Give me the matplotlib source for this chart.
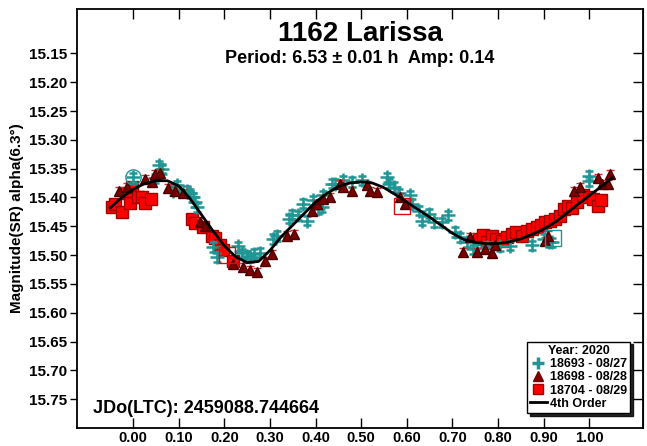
import numpy as np
import matplotlib
matplotlib.use("Agg")
import matplotlib.pyplot as plt
from matplotlib.lines import Line2D

plt.rcParams['font.family'] = ['Liberation Sans', 'DejaVu Sans']
plt.rcParams['font.weight'] = 'bold'

# 18693 - 08/27 (teal pluses)
ph_a = [0.000, 0.048, 0.056, 0.059, 0.063, 0.088, 0.096, 0.103, 0.118, 0.125,
        0.132, 0.136, 0.140, 0.176, 0.183, 0.231, 0.238, 0.249, 0.256, 0.264,
        0.278, 0.307, 0.315, 0.341, 0.348, 0.362, 0.373, 0.381, 0.395, 0.406,
        0.414, 0.417, 0.436, 0.443, 0.461, 0.480, 0.501, 0.556, 0.560, 0.571,
        0.582, 0.607, 0.611, 0.626, 0.633, 0.648, 0.659, 0.677, 0.691, 0.706,
        0.717, 0.732, 0.746, 0.754, 0.776, 0.805, 0.827, 0.874, 0.900, 0.911,
        0.918, 0.999, 0.999]
mag_a = [15.365, 15.367, 15.344, 15.359, 15.350, 15.388, 15.379, 15.388, 15.388, 15.393,
         15.400, 15.408, 15.417, 15.486, 15.504, 15.485, 15.497, 15.501, 15.504, 15.498,
         15.496, 15.472, 15.467, 15.437, 15.430, 15.431, 15.411, 15.440, 15.405, 15.420,
         15.417, 15.396, 15.376, 15.376, 15.370, 15.373, 15.370, 15.365, 15.376, 15.382,
         15.393, 15.396, 15.411, 15.423, 15.440, 15.428, 15.443, 15.443, 15.431, 15.460,
         15.469, 15.478, 15.490, 15.488, 15.486, 15.485, 15.484, 15.483, 15.472, 15.478,
         15.478, 15.362, 15.372]
err_a = 0.008

# 18698 - 08/28 (dark red triangles)
ph_b = [-0.032, -0.014, 0.026, 0.041, 0.048, 0.059, 0.077, 0.092, 0.110, 0.147,
        0.158, 0.220, 0.242, 0.256, 0.271, 0.289, 0.304, 0.337, 0.352, 0.392,
        0.403, 0.417, 0.432, 0.454, 0.461, 0.480, 0.512, 0.520, 0.534, 0.586,
        0.596, 0.724, 0.739, 0.754, 0.772, 0.787, 0.794, 0.904, 0.910, 0.966,
        0.980, 1.020, 1.028, 1.042, 1.046]
mag_b = [15.388, 15.382, 15.368, 15.373, 15.359, 15.358, 15.384, 15.388, 15.392, 15.443,
         15.449, 15.516, 15.521, 15.526, 15.529, 15.511, 15.498, 15.466, 15.463, 15.423,
         15.411, 15.403, 15.399, 15.376, 15.382, 15.388, 15.379, 15.388, 15.391, 15.400,
         15.411, 15.494, 15.469, 15.495, 15.489, 15.497, 15.482, 15.475, 15.466, 15.388,
         15.382, 15.367, 15.376, 15.376, 15.359]
err_b = 0.007

# 18704 - 08/29 (red squares)
ph_c = [-0.047, -0.040, -0.025, -0.014, -0.007, -0.003, 0.011, 0.019, 0.026, 0.040,
        0.129, 0.136, 0.154, 0.173, 0.180, 0.190, 0.198, 0.219,
        0.758, 0.768, 0.776, 0.787, 0.795, 0.808, 0.820, 0.830, 0.840, 0.852,
        0.863, 0.875, 0.885, 0.895, 0.904, 0.915, 0.925, 0.936, 0.945, 0.954,
        0.963, 0.973, 0.987, 1.000, 1.009, 1.020, 1.025]
mag_c = [15.417, 15.412, 15.425, 15.393, 15.410, 15.382, 15.400, 15.399, 15.410, 15.402,
         15.437, 15.445, 15.452, 15.466, 15.471, 15.483, 15.492, 15.510,
         15.472, 15.465, 15.478, 15.466, 15.472, 15.475, 15.468, 15.463, 15.460, 15.466,
         15.458, 15.455, 15.452, 15.447, 15.443, 15.440, 15.437, 15.432, 15.420, 15.414,
         15.418, 15.408, 15.395, 15.400, 15.402, 15.415, 15.405]
err_c = 0.006

# hollow reference markers
ref_ph = [0.000, 0.205, 0.590, 0.920]
ref_mag = [15.365, 15.500, 15.414, 15.471]
ref_mk = ['o', 's', 's', 's']
ref_col = ['#209595', '#d01010', '#d01010', '#209595']

# 4th order fit
fit_ph = [-0.050, -0.025, 0.000, 0.025, 0.050, 0.075, 0.100, 0.125, 0.150, 0.175,
          0.200, 0.225, 0.250, 0.275, 0.300, 0.325, 0.350, 0.375, 0.400, 0.425,
          0.450, 0.475, 0.500, 0.525, 0.550, 0.575, 0.600, 0.625, 0.650, 0.675,
          0.700, 0.725, 0.750, 0.775, 0.800, 0.825, 0.850, 0.875, 0.900, 0.925,
          0.950, 0.975, 1.000, 1.025, 1.050]
fit_mag = [15.418, 15.400, 15.386, 15.376, 15.371, 15.371, 15.380, 15.402, 15.430, 15.458,
           15.484, 15.503, 15.513, 15.511, 15.492, 15.468, 15.448, 15.428, 15.408, 15.393,
           15.381, 15.375, 15.373, 15.375, 15.383, 15.395, 15.408, 15.421, 15.434, 15.448,
           15.462, 15.473, 15.478, 15.480, 15.480, 15.477, 15.472, 15.464, 15.455, 15.443,
           15.428, 15.412, 15.397, 15.382, 15.366]

yticks = [15.15, 15.20, 15.25, 15.30, 15.35, 15.40, 15.45, 15.50, 15.55, 15.60, 15.65, 15.70, 15.75]
xticks = [0.0, 0.1, 0.2, 0.3, 0.4, 0.5, 0.6, 0.7, 0.8, 0.9, 1.0]

teal = '#209595'
maroon = '#7a0000'

fig = plt.figure(figsize=(6.47, 4.46), dpi=100)
ax = fig.add_axes([77 / 647, 18 / 446, 566 / 647, 419 / 446])

ax.errorbar(ph_a, mag_a, yerr=err_a, fmt='+', color=teal, ms=10, mew=1.8,
            elinewidth=1, capsize=3, zorder=3)
ax.errorbar(ph_b, mag_b, yerr=err_b, fmt='^', mfc=maroon, mec='#4a0000', ms=7,
            ecolor='#d03030', elinewidth=1, capsize=3, zorder=4)
ax.errorbar(ph_c, mag_c, yerr=err_c, fmt='s', mfc='#ff0000', mec='#a00000', ms=8,
            ecolor='#e03030', elinewidth=1, capsize=2, zorder=2)
for p, m, mk, c in zip(ref_ph, ref_mag, ref_mk, ref_col):
    ax.plot(p, m, mk, mfc='none', mec=c, ms=11, mew=1, zorder=5)
ax.plot(fit_ph, fit_mag, color='black', lw=2, zorder=6)

ax.set_xlim(-0.123, 1.118)
ax.set_ylim(15.80, 15.073)
ax.set_xticks(xticks)
ax.set_xticklabels([f'{t:.2f}' for t in xticks])
ax.set_yticks(yticks)
ax.set_yticklabels([f'{t:.2f}' for t in yticks])
ax.tick_params(axis='x', direction='in', top=True, length=7, width=1, labelsize=10.5, pad=2)
ax.tick_params(axis='y', direction='out', right=False, length=5, width=1, labelsize=11, pad=2)
sec = ax.secondary_yaxis('right')
sec.set_yticks(yticks)
sec.tick_params(direction='in', length=7, width=1, labelright=False)
for s in ax.spines.values():
    s.set_linewidth(1.3)

ax.set_ylabel('Magnitude(SR) alpha(6.3°)', fontsize=11, fontweight='bold')
ax.yaxis.set_label_coords(-0.094, 0.5)

fig.text(360 / 647, 1 - 41 / 446, '1162 Larissa', ha='center', va='baseline',
         fontsize=20, fontweight='bold')
fig.text(360 / 647, 1 - 63 / 446, 'Period: 6.53 ± 0.01 h  Amp: 0.14', ha='center',
         va='baseline', fontsize=13, fontweight='bold')
fig.text(93 / 647, 1 - 413 / 446, 'JDo(LTC): 2459088.744664', ha='left', va='baseline',
         fontsize=13, fontweight='bold')

handles = [
    Line2D([], [], ls='none', marker='+', color=teal, ms=9, mew=2.5),
    Line2D([], [], ls='none', marker='^', mfc=maroon, mec=maroon, ms=7),
    Line2D([], [], ls='none', marker='s', mfc='#ff0000', mec='#a00000', ms=7),
    Line2D([], [], color='black', lw=2),
]
labels = ['18693 - 08/27', '18698 - 08/28', '18704 - 08/29', '4th Order']
leg = ax.legend(handles, labels, title='Year: 2020', loc='lower right',
                bbox_to_anchor=(0.977, 0.036), borderaxespad=0, fancybox=False,
                shadow={'color': 'black', 'alpha': 0.85}, edgecolor='black',
                framealpha=1, handlelength=1.3, handletextpad=0.25,
                labelspacing=0.1, borderpad=0.25,
                prop={'size': 9, 'weight': 'bold'},
                title_fontproperties={'size': 9, 'weight': 'bold'})
leg.get_frame().set_linewidth(1)

fig.savefig('out.png', dpi=100)
